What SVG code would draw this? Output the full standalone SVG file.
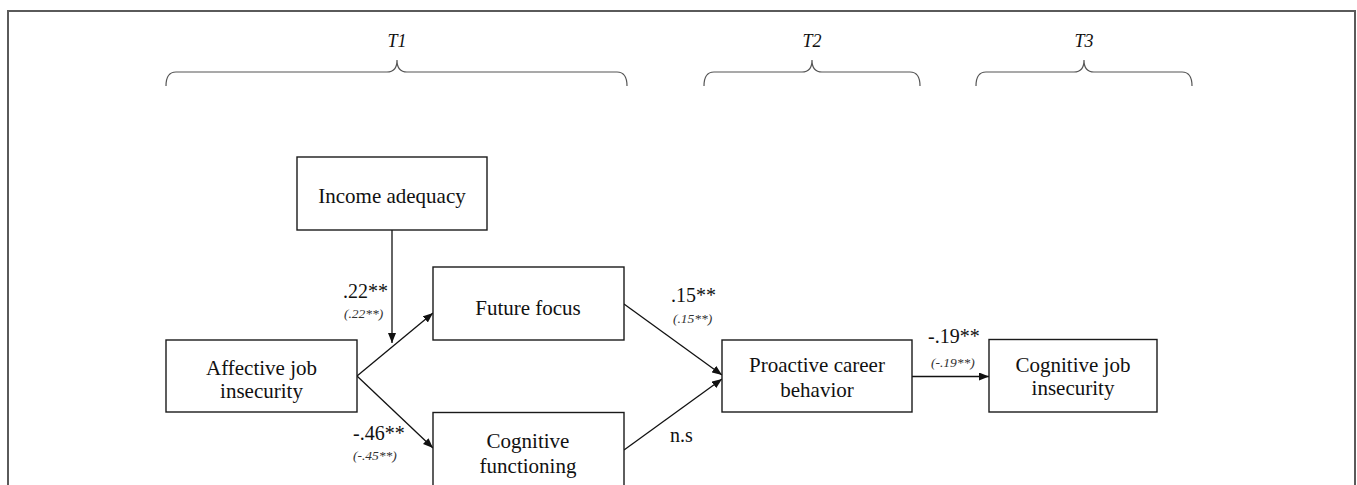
<svg xmlns="http://www.w3.org/2000/svg" width="1357" height="485" viewBox="0 0 1357 485">
<defs>
<style>
.box{fill:#fff;stroke:#1a1a1a;stroke-width:1.4}
.frame{fill:none;stroke:#5a5a5a;stroke-width:2}
.brace{fill:none;stroke:#555;stroke-width:1.2}
.edge{fill:none;stroke:#111;stroke-width:1.3}
.node{font-family:"Liberation Serif","Times New Roman",serif;font-size:21px;fill:#111;text-anchor:middle}
.coef{font-family:"Liberation Serif","Times New Roman",serif;font-size:20px;fill:#111}
.sub{font-family:"Liberation Serif","Times New Roman",serif;font-size:13.5px;font-style:italic;fill:#333}
.tlab{font-family:"Liberation Serif","Times New Roman",serif;font-size:18px;font-style:italic;fill:#111;text-anchor:middle}
</style>
<marker id="arr" markerWidth="10" markerHeight="8" refX="10" refY="4" orient="auto" markerUnits="userSpaceOnUse">
<path d="M0,0 L10,4 L0,8 z" fill="#111"/>
</marker>
</defs>
<rect width="1357" height="485" fill="#fff"/>
<path class="frame" d="M8,486 L8,11 L1355,11 L1355,486"/>
<g id="timeline">
<path class="brace" d="M166,86 Q166,72 176,72 L387,72 Q397,72 397,60 Q397,72 407,72 L617,72 Q627,72 627,86"/>
<text class="tlab" x="397" y="47">T1</text>
<path class="brace" d="M704,86 Q704,72 714,72 L802,72 Q812,72 812,60 Q812,72 822,72 L910,72 Q920,72 920,86"/>
<text class="tlab" x="812" y="47">T2</text>
<path class="brace" d="M976,86 Q976,72 986,72 L1074,72 Q1084,72 1084,60 Q1084,72 1094,72 L1182,72 Q1192,72 1192,86"/>
<text class="tlab" x="1084" y="47">T3</text>
</g>
<g id="connectors">
<path class="edge" d="M392,230 L392,343" marker-end="url(#arr)"/>
<path class="edge" d="M357,376 L433,313" marker-end="url(#arr)"/>
<path class="edge" d="M357,376 L433,448" marker-end="url(#arr)"/>
<path class="edge" d="M624,304 L722,375" marker-end="url(#arr)"/>
<path class="edge" d="M624,450 L722,379" marker-end="url(#arr)"/>
<path class="edge" d="M912,376.5 L989,376.5" marker-end="url(#arr)"/>
<text class="coef" x="343" y="298">.22**</text>
<text class="sub" x="344" y="318">(.22**)</text>
<text class="coef" x="353" y="440">-.46**</text>
<text class="sub" x="353" y="460">(-.45**)</text>
<text class="coef" x="671" y="302">.15**</text>
<text class="sub" x="673" y="323">(.15**)</text>
<text class="coef" x="670" y="442">n.s</text>
<text class="coef" x="928" y="343">-.19**</text>
<text class="sub" x="931" y="367">(-.19**)</text>
</g>
<g id="income">
<rect class="box" x="297" y="157" width="190" height="73"/>
<text class="node" x="392" y="203">Income adequacy</text>
</g>
<g id="affective">
<rect class="box" x="166" y="340" width="191" height="72"/>
<text class="node" x="261.5" y="375">Affective job</text>
<text class="node" x="261.5" y="398">insecurity</text>
</g>
<g id="future">
<rect class="box" x="433" y="267" width="191" height="73"/>
<text class="node" x="528" y="315">Future focus</text>
</g>
<g id="cogfunc">
<rect class="box" x="433" y="412.5" width="191" height="80"/>
<text class="node" x="528" y="448">Cognitive</text>
<text class="node" x="528" y="473">functioning</text>
</g>
<g id="proactive">
<rect class="box" x="722" y="340" width="190" height="72"/>
<text class="node" x="817" y="372">Proactive career</text>
<text class="node" x="817" y="397">behavior</text>
</g>
<g id="cogjob">
<rect class="box" x="989" y="339.5" width="168" height="72.5"/>
<text class="node" x="1073" y="372">Cognitive job</text>
<text class="node" x="1073" y="395">insecurity</text>
</g>
</svg>
